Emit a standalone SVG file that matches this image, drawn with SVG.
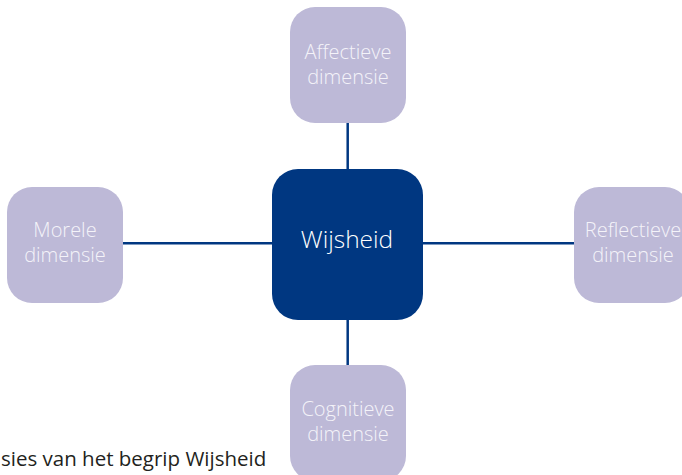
<svg xmlns="http://www.w3.org/2000/svg" width="682" height="475" viewBox="0 0 682 475">
<style>
.sat{fill:#bdb9d7}
.core{fill:#003781}
.lbl{font-family:"Open Sans","Noto Sans",sans-serif;font-weight:300;font-size:20px;fill:#f4f3f9;text-anchor:middle}
.clbl{font-family:"Open Sans","Noto Sans",sans-serif;font-weight:300;font-size:24.5px;fill:#ffffff;text-anchor:middle}
.cap{font-family:"Open Sans","Noto Sans",sans-serif;font-size:20.5px;fill:#231f20}
.conn{stroke:#003781;stroke-width:2.5;fill:none}
</style>
<rect width="682" height="475" fill="#ffffff"/>
<g id="connectors">
<line class="conn" x1="347.7" y1="122" x2="347.7" y2="170"/>
<line class="conn" x1="347.7" y1="319" x2="347.7" y2="366"/>
<line class="conn" x1="122" y1="243.3" x2="273" y2="243.3"/>
<line class="conn" x1="422" y1="243.3" x2="575" y2="243.3"/>
</g>
<g id="wijsheid">
<rect class="core" x="272" y="169" width="151" height="151" rx="26"/>
<text class="clbl" x="347" y="248">Wijsheid</text>
</g>
<g id="affectieve">
<rect class="sat" x="290" y="7" width="116" height="116" rx="25"/>
<text class="lbl" x="348" y="59">Affectieve</text>
<text class="lbl" x="348" y="84">dimensie</text>
</g>
<g id="morele">
<rect class="sat" x="7" y="187" width="116" height="116" rx="25"/>
<text class="lbl" x="65" y="237">Morele</text>
<text class="lbl" x="65" y="262">dimensie</text>
</g>
<g id="reflectieve">
<rect class="sat" x="574" y="187" width="116" height="116" rx="25"/>
<text class="lbl" x="633" y="237">Reflectieve</text>
<text class="lbl" x="633" y="262">dimensie</text>
</g>
<g id="cognitieve">
<rect class="sat" x="290" y="365" width="116" height="116" rx="25"/>
<text class="lbl" x="348" y="416">Cognitieve</text>
<text class="lbl" x="348" y="441">dimensie</text>
</g>
<text class="cap" x="1" y="466">sies van het begrip Wijsheid</text>
</svg>
